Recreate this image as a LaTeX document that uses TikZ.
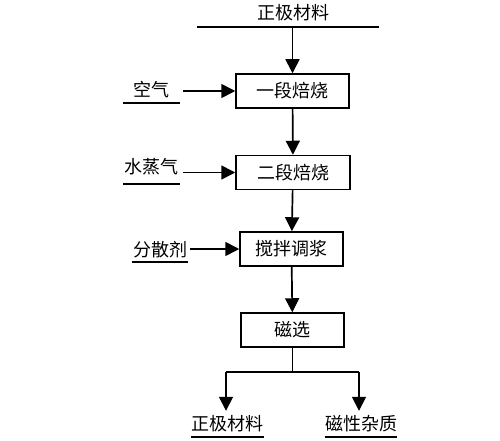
\documentclass[tikz,border=0pt]{standalone}
\usepackage{fontspec}
\setmainfont{Noto Sans CJK SC}
\usetikzlibrary{arrows.meta}
\begin{document}
\begin{tikzpicture}[x=1pt,y=-1pt,
  font=\fontsize{18}{21}\selectfont,
  stepbox/.style={draw,line width=1.5pt,inner sep=0pt,minimum height=34pt},
  lbl/.style={inner sep=0pt},
  uline/.style={line width=1.8pt},
  arr/.style={line width=1.7pt,-{Triangle[length=14pt,width=14pt]}},
  ln/.style={line width=1.7pt}]
\useasboundingbox (0,0) rectangle (500,441);
\fill[white] (0,0) rectangle (500,441);
% top
\node[lbl] (top) at (293,13) {正极材料};
\coordinate (tl) at (197,27);
\coordinate (tr) at (379,27);
\draw[uline] (tl) -- (tr);
% boxes
\node[stepbox,minimum width=113pt] (b1) at (292.5,91) {一段焙烧};
\node[stepbox,minimum width=114pt] (b2) at (293,172.5) {二段焙烧};
\node[stepbox,minimum width=103pt] (b3) at (291.5,249) {搅拌调浆};
\node[stepbox,minimum width=103pt] (b4) at (292.5,330) {磁选};
% inputs
\node[lbl,minimum width=57pt,minimum height=26pt] (air) at (151.5,90) {空气};
\draw[uline] (air.south west) -- (air.south east);
\node[lbl,minimum width=57pt,minimum height=34pt] (wv) at (151.5,167) {水蒸气};
\draw[uline] (wv.south west) -- (wv.south east);
\node[lbl,minimum width=56pt,minimum height=24pt] (disp) at (160,250) {分散剂};
\draw[uline] (disp.south west) -- (disp.south east);
% outputs
\node[lbl,minimum width=71pt,minimum height=26pt] (o1) at (227.5,424) {正极材料};
\draw[uline] (o1.south west) -- (o1.south east);
\node[lbl,minimum width=72pt,minimum height=26pt] (o2) at (361,424) {磁性杂质};
\draw[uline] (o2.south west) -- (o2.south east);
% connectors
\draw[arr] (b1.north |- tl) -- (b1.north);
\draw[arr] (b1) -- (b2);
\draw[arr] (b2) -- (b3);
\draw[arr] (b3) -- (b4);
\draw[arr,shorten <=3pt] (b1.west -| air.east) -- (b1.west);
\draw[arr,shorten <=3pt] (b2.west -| wv.east) -- (b2.west);
\draw[arr,shorten <=2pt] (b3.west -| disp.east) -- (b3.west);
\coordinate (jl) at (226,372);
\coordinate (jr) at (359,372);
\draw[ln] (b4.south) -- (b4.south |- jl);
\draw[ln] (jl) -- (jr);
\draw[arr] (jl) -- (jl |- o1.north);
\draw[arr] (jr) -- (jr |- o2.north);
\end{tikzpicture}
\end{document}
